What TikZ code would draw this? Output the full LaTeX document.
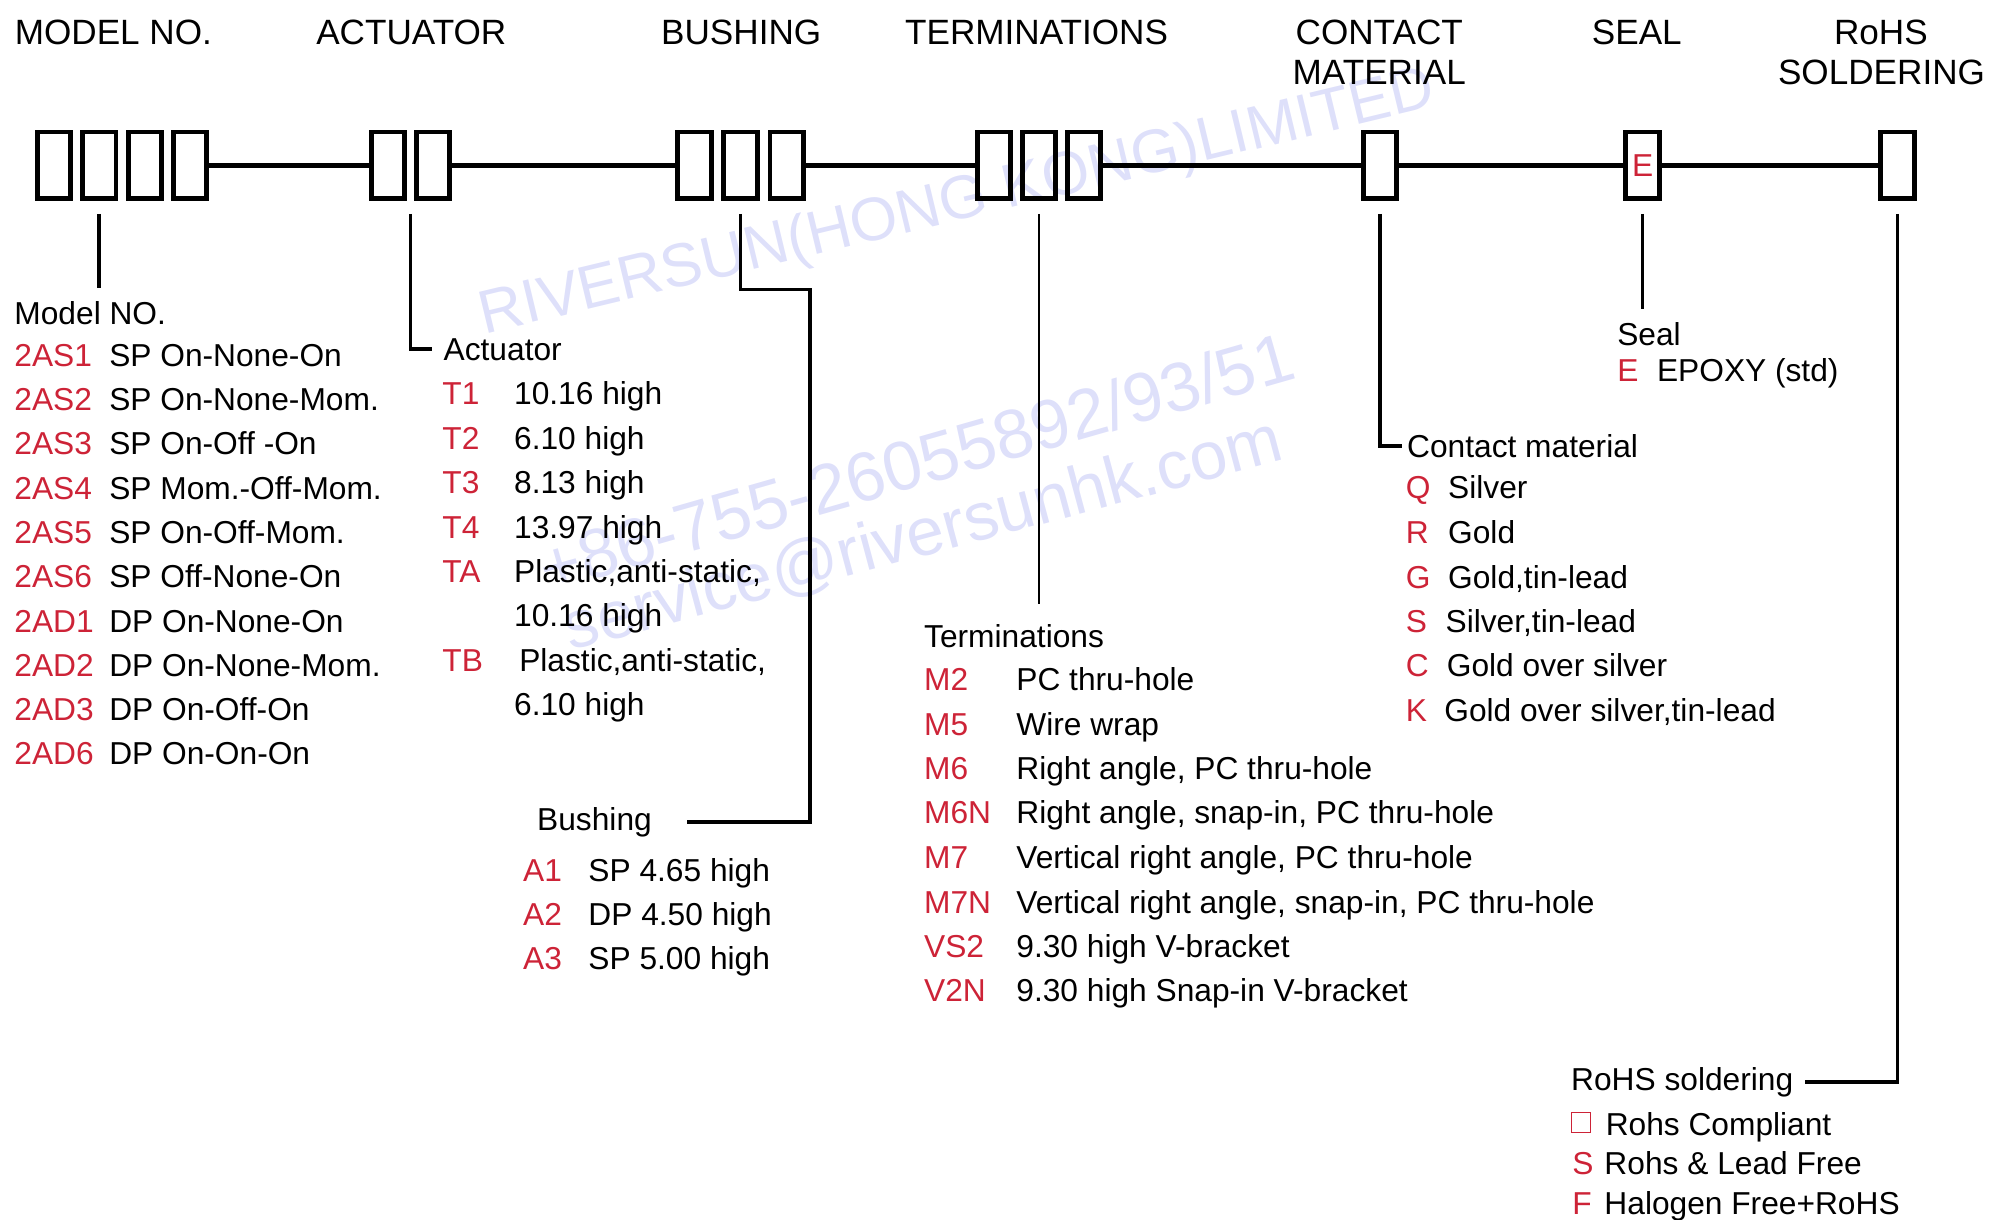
\documentclass[tikz,border=0pt]{standalone}
\usepackage{fontspec}
\setmainfont{Liberation Sans}
\usepackage{tikz}
\usetikzlibrary{calc}
\definecolor{codered}{RGB}{205,35,55}
\definecolor{wmblue}{RGB}{222,224,250}

\tikzset{
  slot/.style={draw, line width=2.7pt, minimum width=0.65cm, minimum height=1.3cm, inner sep=0pt},
  head/.style={font=\fontsize{19.5}{22}\selectfont, anchor=base, inner sep=0pt},
  item/.style={font=\fontsize{17.6}{20}\selectfont, anchor=base west, inner sep=0pt},
  code/.style={item, text=codered},
  bus/.style={line width=2.5pt},
  lead/.style={line width=2pt},
  thinlead/.style={line width=1.3pt},
  wmark/.style={text=wmblue, anchor=base west, inner sep=0pt}
}

\begin{document}
\begin{tikzpicture}[x=0.025cm, y=-0.025cm]
\useasboundingbox (0,0) rectangle (1568,952);

% watermark
\node[wmark, rotate=13.5, font=\fontsize{34}{40}\selectfont] (wm1) at (378,261) {RIVERSUN(HONG KONG)LIMITED};
\node[wmark, rotate=16, font=\fontsize{38.5}{44}\selectfont] (wm2) at (427,463) {+86-755-26055892/93/51};
\node[wmark, rotate=15, font=\fontsize{37.5}{44}\selectfont] (wm3) at (445,508) {service@riversunhk.com};

% column titles
\node[head] (hmodel) at (88.5,35) {MODEL NO.};
\node[head] (hact)   at (321,35)  {ACTUATOR};
\node[head] (hbush)  at (578.5,35) {BUSHING};
\node[head] (hterm)  at (809,35)  {TERMINATIONS};
\node[head] (hcont)  at (1076.5,35) {CONTACT};
\node[head] (hmat)   at (1076.5,66) {MATERIAL};
\node[head] (hseal)  at (1277.5,35) {SEAL};
\node[head] (hrohs)  at (1468,35) {RoHS};
\node[head] (hsold)  at (1468.5,66) {SOLDERING};

% code boxes
\node[slot] (m1) at (42,129) {};
\node[slot] (m2) at (77.5,129) {};
\node[slot] (m3) at (113,129) {};
\node[slot] (m4) at (148.5,129) {};
\node[slot] (a1) at (303,129) {};
\node[slot] (a2) at (338,129) {};
\node[slot] (b1) at (542,129) {};
\node[slot] (b2) at (578,129) {};
\node[slot] (b3) at (614,129) {};
\node[slot] (t1) at (776,129) {};
\node[slot] (t2) at (811,129) {};
\node[slot] (t3) at (846,129) {};
\node[slot] (c1) at (1077,129) {};
\node[slot] (s1) at (1282,129) {};
\node[slot] (r1) at (1481,129) {};
\node[code, anchor=center] (se) at (s1) {E};

% main line
\draw[bus] (m4.east) -- (a1.west);
\draw[bus] (a2.east) -- (b1.west);
\draw[bus] (b3.east) -- (t1.west);
\draw[bus] (t3.east) -- (c1.west);
\draw[bus] (c1.east) -- (s1.west);
\draw[bus] (s1.east) -- (r1.west);

% model no.
\node[item] (mhead) at (11,253) {Model NO.};
\draw[lead] ([yshift=-0.25cm]m2.south) -- ([yshift=0.25cm]m2.south |- mhead.north);
\node[code] (mc1)  at (11,286)   {2AS1}; \node[item] (md1)  at (85,286)   {SP On-None-On};
\node[code] (mc2)  at (11,320.5) {2AS2}; \node[item] (md2)  at (85,320.5) {SP On-None-Mom.};
\node[code] (mc3)  at (11,355)   {2AS3}; \node[item] (md3)  at (85,355)   {SP On-Off -On};
\node[code] (mc4)  at (11,389.6) {2AS4}; \node[item] (md4)  at (85,389.6) {SP Mom.-Off-Mom.};
\node[code] (mc5)  at (11,424.2) {2AS5}; \node[item] (md5)  at (85,424.2) {SP On-Off-Mom.};
\node[code] (mc6)  at (11,458.8) {2AS6}; \node[item] (md6)  at (85,458.8) {SP Off-None-On};
\node[code] (mc7)  at (11,493.3) {2AD1}; \node[item] (md7)  at (85,493.3) {DP On-None-On};
\node[code] (mc8)  at (11,527.9) {2AD2}; \node[item] (md8)  at (85,527.9) {DP On-None-Mom.};
\node[code] (mc9)  at (11,562.4) {2AD3}; \node[item] (md9)  at (85,562.4) {DP On-Off-On};
\node[code] (mc10) at (11,597)   {2AD6}; \node[item] (md10) at (85,597)   {DP On-On-On};

% actuator
\coordinate (adrop) at ($(a1.south)!0.5!(a2.south)$);
\node[item] (ahead) at (346,281) {Actuator};
\draw[lead] ([yshift=-0.25cm]adrop) |- ([xshift=-0.22cm]ahead.west);
\node[code] (ac1) at (345,316)   {T1}; \node[item] (ad1) at (401,316)   {10.16 high};
\node[code] (ac2) at (345,351)   {T2}; \node[item] (ad2) at (401,351)   {6.10 high};
\node[code] (ac3) at (345,385.5) {T3}; \node[item] (ad3) at (401,385.5) {8.13 high};
\node[code] (ac4) at (345,420)   {T4}; \node[item] (ad4) at (401,420)   {13.97 high};
\node[code] (ac5) at (345,454.5) {TA}; \node[item] (ad5) at (401,454.5) {Plastic,anti-static,};
\node[item] (ad5b) at (401,489) {10.16 high};
\node[code] (ac6) at (345,524)   {TB}; \node[item] (ad6) at (405,524)   {Plastic,anti-static,};
\node[item] (ad6b) at (401,558.5) {6.10 high};

% bushing
\node[item] (bhead) at (419,648) {Bushing};
\coordinate (bturn) at (632,226);
\draw[lead] ([yshift=-0.25cm]b2.south) |- (bturn) |- ([xshift=0.68cm]bhead.east);
\node[code] (bc1) at (408,688) {A1}; \node[item] (bd1) at (459,688) {SP 4.65 high};
\node[code] (bc2) at (408,722) {A2}; \node[item] (bd2) at (459,722) {DP 4.50 high};
\node[code] (bc3) at (408,757) {A3}; \node[item] (bd3) at (459,757) {SP 5.00 high};

% terminations
\node[item] (thead) at (721,505) {Terminations};
\draw[thinlead] ([yshift=-0.25cm]t2.south) -- ([yshift=0.38cm]t2.south |- thead.north);
\node[code] (tc1) at (721,539)   {M2};  \node[item] (td1) at (793,539)   {PC thru-hole};
\node[code] (tc2) at (721,574)   {M5};  \node[item] (td2) at (793,574)   {Wire wrap};
\node[code] (tc3) at (721,608.5) {M6};  \node[item] (td3) at (793,608.5) {Right angle, PC thru-hole};
\node[code] (tc4) at (721,643)   {M6N}; \node[item] (td4) at (793,643)   {Right angle, snap-in, PC thru-hole};
\node[code] (tc5) at (721,678)   {M7};  \node[item] (td5) at (793,678)   {Vertical right angle, PC thru-hole};
\node[code] (tc6) at (721,713)   {M7N}; \node[item] (td6) at (793,713)   {Vertical right angle, snap-in, PC thru-hole};
\node[code] (tc7) at (721,747)   {VS2}; \node[item] (td7) at (793,747)   {9.30 high V-bracket};
\node[code] (tc8) at (721,782)   {V2N}; \node[item] (td8) at (793,782)   {9.30 high Snap-in V-bracket};

% contact material
\node[item] (chead) at (1098,357) {Contact material};
\draw[lead] ([yshift=-0.25cm]c1.south) |- ([xshift=-0.1cm]chead.west);
\node[code] (cc1) at (1097,389) {Q}; \node[item] (cd1) at (1130,389) {Silver};
\node[code] (cc2) at (1097,424) {R}; \node[item] (cd2) at (1130,424) {Gold};
\node[code] (cc3) at (1097,459) {G}; \node[item] (cd3) at (1130,459) {Gold,tin-lead};
\node[code] (cc4) at (1097,494) {S}; \node[item] (cd4) at (1128,494) {Silver,tin-lead};
\node[code] (cc5) at (1097,528) {C}; \node[item] (cd5) at (1129,528) {Gold over silver};
\node[code] (cc6) at (1097,563) {K}; \node[item] (cd6) at (1127,563) {Gold over silver,tin-lead};

% seal
\node[item] (shead) at (1262,270) {Seal};
\draw[thinlead] ([yshift=-0.25cm]s1.south) -- ([yshift=0.27cm]s1.south |- shead.north);
\node[code] (sc1) at (1262,298) {E}; \node[item] (sd1) at (1293,298) {EPOXY (std)};

% rohs soldering
\node[item] (rhead) at (1226,851) {RoHS soldering};
\draw[lead] ([yshift=-0.25cm]r1.south) |- ([xshift=0.22cm]rhead.east);
\node[draw=codered, line width=0.6pt, minimum size=0.38cm, inner sep=0pt] (rc1) at (1234,876) {};
\node[item] (rd1) at (1253,886) {Rohs Compliant};
\node[code] (rc2) at (1227,917) {S}; \node[item] (rd2) at (1252,917) {Rohs \& Lead Free};
\node[code] (rc3) at (1227,948) {F}; \node[item] (rd3) at (1252,948) {Halogen Free+RoHS};

\end{tikzpicture}
\end{document}
